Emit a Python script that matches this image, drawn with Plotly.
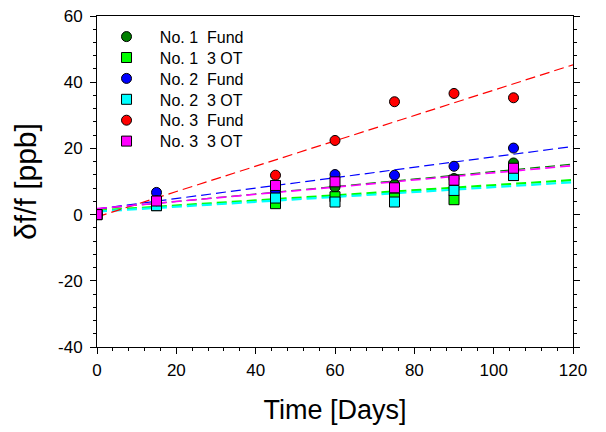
import plotly.graph_objects as go

days = [0, 15, 45, 60, 75, 90, 105]
series_names = ["No. 1  Fund", "No. 1  3 OT", "No. 2  Fund", "No. 2  3 OT", "No. 3  Fund", "No. 3  3 OT"]
no1_fund = [0, 4.1, 7.3, 8.3, 9.1, 10.9, 15.6]
no1_3ot = [0, 2.7, 3.3, 5.4, 5.0, 4.5, 11.8]
no2_fund = [0, 6.7, 7.3, 12.1, 11.9, 14.6, 20.1]
no2_3ot = [0, 2.7, 5.0, 3.8, 3.8, 7.3, 11.8]
no3_fund = [0, 4.2, 11.9, 22.4, 34.1, 36.6, 35.3]
no3_3ot = [0, 4.1, 8.8, 9.9, 8.1, 10.4, 14.0]

# linear fit lines (intercept, slope)
fit_intercept = [1.7, 1.2, 1.7, 0.9, -0.7, 1.8]
fit_slope = [0.113, 0.077, 0.1575, 0.074, 0.383, 0.1083]
fit_x = [0, 120]

x_tickvals = [0, 20, 40, 60, 80, 100, 120]
x_ticktext = ["0", "20", "40", "60", "80", "100", "120"]
y_tickvals = [-40, -20, 0, 20, 40, 60]
y_ticktext = ["-40", "-20", "0", "20", "40", "60"]

colors = ["#008000", "#00FF00", "#0000FF", "#00FFFF", "#FF0000", "#FF00FF"]
symbols = ["circle", "square", "circle", "square", "circle", "square"]
values = [no1_fund, no1_3ot, no2_fund, no2_3ot, no3_fund, no3_3ot]
widths = [1.2, 2.2, 1.2, 2.2, 1.2, 1.6]

font = "Liberation Sans, Arial, sans-serif"

# page offset of 8px (body margin) is compensated in the margins
ML, MT = 89, 8
PLOT_TOP, PLOT_H = 16, 331
legend_rows_px = [36.7, 57.6, 78.5, 99.4, 120.3, 141.2]

fig = go.Figure()
for i in range(6):
    fy = [fit_intercept[i] + fit_slope[i] * x for x in fit_x]
    fig.add_trace(go.Scatter(x=fit_x, y=fy, mode="lines", showlegend=False,
                             line=dict(color=colors[i], width=widths[i], dash="10px,5px"),
                             hoverinfo="skip"))
legends = {}
for i in range(6):
    lname = "legend" if i == 0 else f"legend{i+1}"
    fig.add_trace(go.Scatter(x=days, y=values[i], mode="markers", legend=lname,
                             name="\u00a0\u00a0\u00a0" + series_names[i].replace(" ", "\u00a0"),
                             marker=dict(color=colors[i], symbol=symbols[i], size=10,
                                         line=dict(color="black", width=1))))
    legends[lname] = dict(x=0.02, y=1 - (legend_rows_px[i] - PLOT_TOP) / PLOT_H,
                          xanchor="left", yanchor="middle",
                          bgcolor="rgba(0,0,0,0)", font=dict(size=16, family=font))

fig.update_layout(
    width=606, height=432,
    margin=dict(l=ML, r=41, t=MT, b=93, autoexpand=False),
    paper_bgcolor="white", plot_bgcolor="white",
    font=dict(family=font, color="black", size=17),
    showlegend=True,
    xaxis=dict(range=[0, 120], tickmode="array", tickvals=x_tickvals, ticktext=x_ticktext,
               showgrid=False, zeroline=False, automargin=False,
               showline=True, linecolor="black", linewidth=1, mirror=True,
               ticks="outside", ticklen=6, tickcolor="black", ticklabeloverflow="allow",
               ticklabelstandoff=2,
               minor=dict(dtick=4, tick0=0, ticks="outside", ticklen=3, tickcolor="black"),
               title=dict(text="Time [Days]", font=dict(size=27, family=font), standoff=20),
               tickfont=dict(size=17)),
    yaxis=dict(range=[-40, 60], tickmode="array", tickvals=y_tickvals, ticktext=y_ticktext,
               showgrid=False, zeroline=False, automargin=False,
               showline=True, linecolor="black", linewidth=1, mirror="ticks",
               ticks="outside", ticklen=6, tickcolor="black", ticklabeloverflow="allow",
               ticklabelstandoff=4,
               minor=dict(dtick=4, tick0=0, ticks="outside", ticklen=3, tickcolor="black"),
               title=dict(text="δf/f [ppb]", font=dict(size=30, family=font), standoff=12),
               tickfont=dict(size=17)),
    **legends,
)
fig.write_html("out.html")
